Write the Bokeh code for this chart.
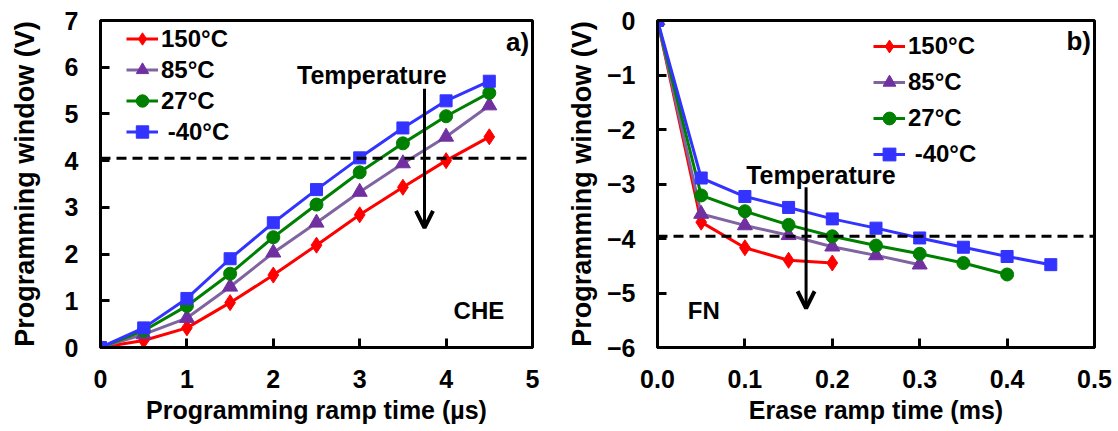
from bokeh.plotting import figure
from bokeh.layouts import row
from bokeh.models import Range1d, Span, Arrow, OpenHead, Label, Legend, LegendItem, NumeralTickFormatter, FixedTicker
from bokeh.embed import file_html
from bokeh.resources import INLINE

# ---- data: a) programming (CHE) ----
t_prog = [0, 0.5, 1, 1.5, 2, 2.5, 3, 3.5, 4, 4.5]
prog_150 = [0, 0.15, 0.42, 0.96, 1.55, 2.19, 2.84, 3.43, 4.00, 4.51]
prog_85 = [0, 0.28, 0.63, 1.30, 2.03, 2.67, 3.33, 3.94, 4.51, 5.18]
prog_27 = [0, 0.36, 0.89, 1.58, 2.36, 3.06, 3.75, 4.37, 4.95, 5.45]
prog_m40 = [0, 0.42, 1.05, 1.90, 2.67, 3.38, 4.06, 4.70, 5.28, 5.70]
prog_threshold = 4.05

# ---- data: b) erase (FN) ----
t_er_150 = [0, 0.05, 0.1, 0.15, 0.2]
er_150 = [0, -3.70, -4.17, -4.40, -4.45]
t_er_85 = [0, 0.05, 0.1, 0.15, 0.2, 0.25, 0.3]
er_85 = [0, -3.55, -3.76, -3.94, -4.15, -4.31, -4.48]
t_er_27 = [0, 0.05, 0.1, 0.15, 0.2, 0.25, 0.3, 0.35, 0.4]
er_27 = [0, -3.21, -3.50, -3.75, -3.96, -4.13, -4.28, -4.45, -4.66]
t_er_m40 = [0, 0.05, 0.1, 0.15, 0.2, 0.25, 0.3, 0.35, 0.4, 0.45]
er_m40 = [0, -2.89, -3.23, -3.43, -3.64, -3.81, -3.99, -4.16, -4.33, -4.48]
erase_threshold = -3.96

labels = ["150°C", "85°C", "27°C", " -40°C"]
line_colors = ["#FF0000", "#8064A2", "#008000", "#3333FF"]
marker_colors = ["#FF0000", "#7030A0", "#008000", "#3333FF"]
markers = ["diamond", "triangle", "circle", "square"]
marker_sizes = [16, 15, 13, 12]

FONT = "Liberation Sans"


def style(p, xlabel, ylabel):
    p.outline_line_color = "black"
    p.outline_line_width = 3
    p.xgrid.visible = False
    p.ygrid.visible = False
    for ax in (p.xaxis[0], p.yaxis[0]):
        ax.axis_line_width = 3
        ax.major_tick_line_width = 3
        ax.major_tick_out = 0
        ax.major_tick_in = 9
        ax.minor_tick_line_color = None
        ax.major_label_text_font = FONT
        ax.major_label_text_font_style = "bold"
        ax.major_label_text_font_size = "25px"
        ax.major_label_text_color = "black"
        ax.axis_label_text_font = FONT
        ax.axis_label_text_font_style = "bold"
        ax.axis_label_text_color = "black"
    p.xaxis[0].axis_label = xlabel
    p.yaxis[0].axis_label = ylabel
    p.xaxis[0].axis_label_text_font_size = "25px"
    p.yaxis[0].axis_label_text_font_size = "27px"
    p.xaxis[0].major_label_standoff = 22
    p.xaxis[0].axis_label_standoff = 5
    p.yaxis[0].major_label_standoff = 22


def add_series(p, xs_list, ys_list):
    items = []
    for xs, ys, lab, lc, mc, mk, ms in zip(xs_list, ys_list, labels, line_colors, marker_colors, markers, marker_sizes):
        r1 = p.line(xs, ys, line_color=lc, line_width=3)
        r2 = p.scatter(xs, ys, marker=mk, size=ms, fill_color=mc, line_color=mc)
        items.append(LegendItem(label=lab, renderers=[r1, r2]))
    return items


def make_legend(items, loc, spacing_h):
    lg = Legend(items=items, location=loc, padding=0, margin=0, spacing=0,
                glyph_width=32, glyph_height=spacing_h, label_height=spacing_h,
                label_standoff=3, background_fill_alpha=0, border_line_color=None,
                label_text_font=FONT, label_text_font_style="bold", label_text_font_size="24px",
                label_text_color="black")
    return lg


def txt(p, x, y, s, size, align="center"):
    p.add_layout(Label(x=x, y=y, text=s, text_align=align, text_baseline="middle",
                       text_font=FONT, text_font_style="bold", text_font_size=size,
                       text_color="black"))


# ---------------- a) ----------------
p1 = figure(width=560, height=430, output_backend="svg", toolbar_location=None,
            x_range=Range1d(0, 5), y_range=Range1d(0, 7),
            min_border_left=100, min_border_right=28, min_border_top=18, min_border_bottom=83)
style(p1, "Programming ramp time (µs)", "Programming window (V)")
p1.yaxis[0].axis_label_standoff = 22
p1.xaxis[0].ticker = FixedTicker(ticks=[0, 1, 2, 3, 4, 5])
p1.yaxis[0].ticker = FixedTicker(ticks=[0, 1, 2, 3, 4, 5, 6, 7])
items1 = add_series(p1, [t_prog] * 4, [prog_150, prog_85, prog_27, prog_m40])
p1.add_layout(Span(location=prog_threshold, dimension="width", line_color="black",
                   line_width=3, line_dash="10 6"))
p1.add_layout(Arrow(x_start=3.75, y_start=5.54, x_end=3.75, y_end=2.56, line_width=3,
                    line_color="black", end=OpenHead(size=17, line_width=4, line_color="black")))
txt(p1, 3.14, 5.83, "Temperature", "25px")
txt(p1, 4.96, 6.55, "a)", "26px", "right")
txt(p1, 4.38, 0.79, "CHE", "24px")
p1.add_layout(make_legend(items1, (26, 200), 31))

# ---------------- b) ----------------
p2 = figure(width=556, height=430, output_backend="svg", toolbar_location=None,
            x_range=Range1d(0, 0.5), y_range=Range1d(-6, 0),
            min_border_left=97, min_border_right=22, min_border_top=20, min_border_bottom=83)
style(p2, "Erase ramp time (ms)", "Programming window (V)")
p2.yaxis[0].axis_label_standoff = 7
p2.xaxis[0].ticker = FixedTicker(ticks=[0, 0.1, 0.2, 0.3, 0.4, 0.5])
p2.xaxis[0].formatter = NumeralTickFormatter(format="0.0")
p2.yaxis[0].ticker = FixedTicker(ticks=[-6, -5, -4, -3, -2, -1, 0])
items2 = add_series(p2, [t_er_150, t_er_85, t_er_27, t_er_m40], [er_150, er_85, er_27, er_m40])
p2.add_layout(Span(location=erase_threshold, dimension="width", line_color="black",
                   line_width=3, line_dash="10 6"))
p2.add_layout(Arrow(x_start=0.170, y_start=-3.06, x_end=0.170, y_end=-5.28, line_width=3,
                    line_color="black", end=OpenHead(size=17, line_width=4, line_color="black")))
txt(p2, 0.187, -2.83, "Temperature", "25px")
txt(p2, 0.496, -0.37, "b)", "26px", "right")
txt(p2, 0.053, -5.32, "FN", "24px")
p2.add_layout(make_legend(items2, (216, 175), 36))

layout = row(p1, p2)
open("out.html", "w").write(file_html(layout, INLINE))
